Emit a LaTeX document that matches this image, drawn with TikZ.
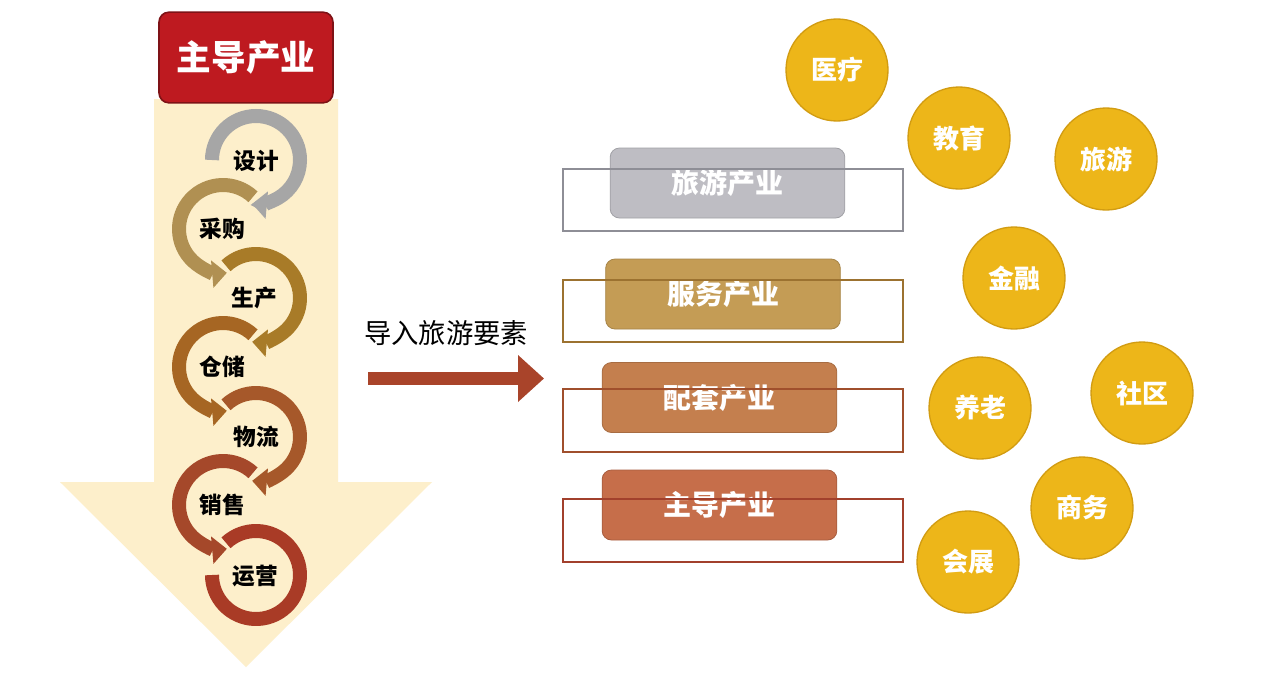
\documentclass[tikz,border=0pt]{standalone}
\usepackage{fontspec}
\newfontfamily\cjk{Noto Sans CJK SC}
\usetikzlibrary{arrows.meta,calc}
\definecolor{cream}{HTML}{FDEFCB}
\definecolor{titlered}{HTML}{BE1A20}
\definecolor{titleedge}{HTML}{7E1216}
\definecolor{rA}{HTML}{A6A6A6}
\definecolor{rB}{HTML}{B09052}
\definecolor{rC}{HTML}{A87B28}
\definecolor{rD}{HTML}{A66623}
\definecolor{rE}{HTML}{A6582A}
\definecolor{rF}{HTML}{A5482A}
\definecolor{rG}{HTML}{A93B26}
\definecolor{arrowred}{HTML}{A9442A}
\definecolor{bxA}{HTML}{BEBDC3}
\definecolor{bxB}{HTML}{C49C55}
\definecolor{bxC}{HTML}{C47F4E}
\definecolor{bxD}{HTML}{C66E4A}
\definecolor{olA}{HTML}{8E8E96}
\definecolor{olB}{HTML}{9C7230}
\definecolor{olC}{HTML}{A04F2C}
\definecolor{olD}{HTML}{A2402C}
\definecolor{gold}{HTML}{EDB619}
\definecolor{goldedge}{HTML}{D29C12}
\begin{document}
\begin{tikzpicture}[x=0.75pt,y=-0.75pt,
  ring/.style={line width=10.5pt},
  ringtip/.style={ring,-{Triangle[length=11pt,width=20pt]}},
  ringlbl/.style={font=\cjk\bfseries\fontsize{17}{17}\selectfont,text=black,inner sep=0pt},
  titlebox/.style={draw=titleedge,line width=1.2pt,fill=titlered,rounded corners=7.5pt,
    minimum width=130.5pt,minimum height=68pt,text=white,font=\cjk\bfseries\fontsize{26}{26}\selectfont},
  rbox/.style={draw=#1!85!black,line width=0.6pt,fill=#1,rounded corners=7pt,
    minimum width=176pt,minimum height=52.5pt,text=white,font=\cjk\bfseries\fontsize{21}{21}\selectfont},
  outl/.style={line width=0.9pt},
  coin/.style={circle,fill=gold,draw=goldedge,line width=1pt,minimum size=76.5pt,inner sep=0pt,
    text=white,font=\cjk\bfseries\fontsize{19.5}{19.5}\selectfont},
  midlbl/.style={font=\cjk\fontsize{20.5}{20.5}\selectfont,text=black,inner sep=0pt}
]
\fill[white] (0,0) rectangle (1269,675);
\path[use as bounding box] (0,0) rectangle (1269,675);

% big down arrow
\fill[cream] (154,99) -- (338,99) -- (338,482) -- (432,482) -- (246,667) -- (60,482) -- (154,482) -- cycle;

% title
\node[titlebox] (title) at (246,57.5) {主导产业};

% ring centres
\coordinate (c1) at (256,160);
\coordinate (c2) at (223,229);
\coordinate (c3) at (256,298);
\coordinate (c4) at (223,367);
\coordinate (c5) at (256,437);
\coordinate (c6) at (223,505);
\coordinate (c7) at (256,575);

% rings, drawn from last to first so each arrowhead lies on the next ring
\draw[ring,draw=rG] ($(c7)+(-133:44)$) arc[start angle=-133,end angle=180,radius=44];
\draw[ringtip,draw=rF] ($(c6)+(-47:44)$) arc[start angle=-47,end angle=-275,radius=44];
\draw[ringtip,draw=rE] ($(c5)+(-133:44)$) arc[start angle=-133,end angle=95,radius=44];
\draw[ringtip,draw=rD] ($(c4)+(-47:44)$) arc[start angle=-47,end angle=-275,radius=44];
\draw[ringtip,draw=rC] ($(c3)+(-133:44)$) arc[start angle=-133,end angle=95,radius=44];
\draw[ringtip,draw=rB] ($(c2)+(-47:44)$) arc[start angle=-47,end angle=-275,radius=44];
\draw[ringtip,draw=rA] ($(c1)+(-180:44)$) arc[start angle=-180,end angle=95,radius=44];

\node[ringlbl] (s1) at (256,161) {设计};
\node[ringlbl] (s2) at (222,229) {采购};
\node[ringlbl] (s3) at (254,298) {生产};
\node[ringlbl] (s4) at (222,367) {仓储};
\node[ringlbl] (s5) at (256,437) {物流};
\node[ringlbl] (s6) at (222,505) {销售};
\node[ringlbl] (s7) at (255,576) {运营};

% middle label and arrow
\node[midlbl] (mid) at (446,333) {导入旅游要素};
\coordinate (a0) at (368,378.5);
\coordinate (a1) at (544,378.5);
\draw[arrowred,line width=9.75pt,-{Triangle[length=19.5pt,width=34pt]}] (a0) -- (a1);

% right boxes
\node[rbox=bxA] (b1) at (727.5,183) {旅游产业};
\node[rbox=bxB] (b2) at (723,294) {服务产业};
\node[rbox=bxC] (b3) at (719.5,397.5) {配套产业};
\node[rbox=bxD] (b4) at (719.5,505) {主导产业};
\draw[outl,olA] (563,169) rectangle (903,231);
\draw[outl,olB] (563,280) rectangle (903,342);
\draw[outl,olC] (563,389) rectangle (903,452);
\draw[outl,olD] (563,499) rectangle (903,562);

% coins
\node[coin] (k1) at (837,70) {医疗};
\node[coin] (k2) at (959,138) {教育};
\node[coin] (k3) at (1106,159) {旅游};
\node[coin] (k4) at (1014,278) {金融};
\node[coin] (k5) at (980,408) {养老};
\node[coin] (k6) at (1142,393) {社区};
\node[coin] (k7) at (1082,508) {商务};
\node[coin] (k8) at (968,562) {会展};
\end{tikzpicture}
\end{document}
